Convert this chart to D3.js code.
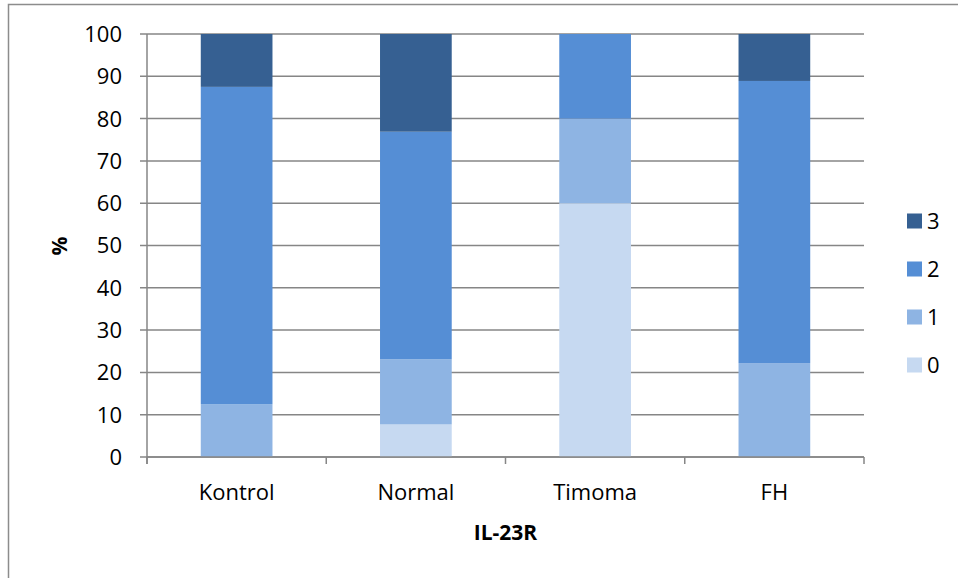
<!DOCTYPE html>
<html>
<head>
<meta charset="utf-8">
<script src="https://cdn.jsdelivr.net/npm/d3@7"></script>
<style>
  body { margin: 0; background: #fff; }
  text { font-family: "Open Sans", "Noto Sans", sans-serif; fill: #000; }
</style>
</head>
<body>
<div id="chart"></div>
<script>
// Datos
const categories = ["Kontrol", "Normal", "Timoma", "FH"];
const seriesKeys = ["0", "1", "2", "3"];
const values0 = [0, 7.7, 60, 0];
const values1 = [12.5, 15.4, 20, 22.2];
const values2 = [75, 53.8, 20, 66.7];
const values3 = [12.5, 23.1, 0, 11.1];
const yTicks = [0, 10, 20, 30, 40, 50, 60, 70, 80, 90, 100];
const colors = ["#c6d9f1", "#8eb4e3", "#558ed5", "#366092"];

const rows = categories.map((c, i) => ({
    cat: c, "0": values0[i], "1": values1[i], "2": values2[i], "3": values3[i]
}));

const width = 958, height = 578;
const margin = { left: 147, right: 94, top: 34, bottom: 121 };
const fontSize = "22px";

const svg = d3.select("#chart").append("svg")
    .attr("width", width)
    .attr("height", height);

// marco exterior
svg.append("path")
    .attr("d", `M8.5,${height} V4.5 H${width}`)
    .attr("fill", "none")
    .attr("stroke", "#8c8c8c")
    .attr("stroke-width", 1.5);

const x = d3.scaleBand()
    .domain(categories)
    .range([margin.left, width - margin.right])
    .paddingInner(0.6)
    .paddingOuter(0.3);

const y = d3.scaleLinear()
    .domain([0, 100])
    .range([height - margin.bottom, margin.top]);

// líneas de cuadrícula
svg.append("g")
    .selectAll("line")
    .data(yTicks)
    .enter().append("line")
    .attr("x1", margin.left - 7)
    .attr("x2", width - margin.right)
    .attr("y1", d => y(d))
    .attr("y2", d => y(d))
    .attr("stroke", "#868686")
    .attr("stroke-width", 1.5);

// etiquetas eje Y
svg.append("g")
    .selectAll("text")
    .data(yTicks)
    .enter().append("text")
    .attr("x", margin.left - 25)
    .attr("y", d => y(d))
    .attr("dy", "0.36em")
    .attr("text-anchor", "end")
    .style("font-size", fontSize)
    .text(d => d);

// barras apiladas
const stack = d3.stack().keys(seriesKeys);
const stacked = stack(rows);

svg.append("g")
    .selectAll("g")
    .data(stacked)
    .enter().append("g")
    .attr("fill", (d, i) => colors[i])
    .selectAll("rect")
    .data(d => d)
    .enter().append("rect")
    .attr("x", d => x(d.data.cat))
    .attr("y", d => y(d[1]))
    .attr("width", x.bandwidth())
    .attr("height", d => y(d[0]) - y(d[1]));

// eje Y
svg.append("line")
    .attr("x1", margin.left).attr("x2", margin.left)
    .attr("y1", y(100)).attr("y2", y(0) + 7)
    .attr("stroke", "#868686").attr("stroke-width", 1.5);

// eje X con marcas entre categorías
const bounds = d3.range(categories.length + 1).map(i => margin.left + i * (width - margin.right - margin.left) / categories.length);
svg.append("line")
    .attr("x1", margin.left).attr("x2", width - margin.right)
    .attr("y1", y(0)).attr("y2", y(0))
    .attr("stroke", "#868686").attr("stroke-width", 1.5);
svg.append("g")
    .selectAll("line")
    .data(bounds)
    .enter().append("line")
    .attr("x1", d => d).attr("x2", d => d)
    .attr("y1", y(0)).attr("y2", y(0) + 7)
    .attr("stroke", "#868686").attr("stroke-width", 1.5);

// etiquetas eje X
svg.append("g")
    .selectAll("text")
    .data(categories)
    .enter().append("text")
    .attr("x", d => x(d) + x.bandwidth() / 2)
    .attr("y", y(0) + 43)
    .attr("text-anchor", "middle")
    .style("font-size", fontSize)
    .text(d => d);

// títulos de ejes
svg.append("text")
    .attr("x", (margin.left + width - margin.right) / 2)
    .attr("y", 540)
    .attr("text-anchor", "middle")
    .style("font-size", "21px")
    .style("font-weight", "bold")
    .text("IL-23R");

svg.append("text")
    .attr("transform", "translate(67,246) rotate(-90)")
    .attr("text-anchor", "middle")
    .style("font-size", "21px")
    .style("font-weight", "bold")
    .text("%");

// leyenda
const legendKeys = seriesKeys.slice().reverse();
const legend = svg.append("g")
    .selectAll("g")
    .data(legendKeys)
    .enter().append("g")
    .attr("transform", (d, i) => `translate(907,${221 + i * 48})`);

legend.append("rect")
    .attr("x", 0).attr("y", -7.5)
    .attr("width", 15).attr("height", 15)
    .attr("fill", d => colors[seriesKeys.indexOf(d)]);

legend.append("text")
    .attr("x", 20)
    .attr("dy", "0.36em")
    .style("font-size", fontSize)
    .text(d => d);
</script>
</body>
</html>
